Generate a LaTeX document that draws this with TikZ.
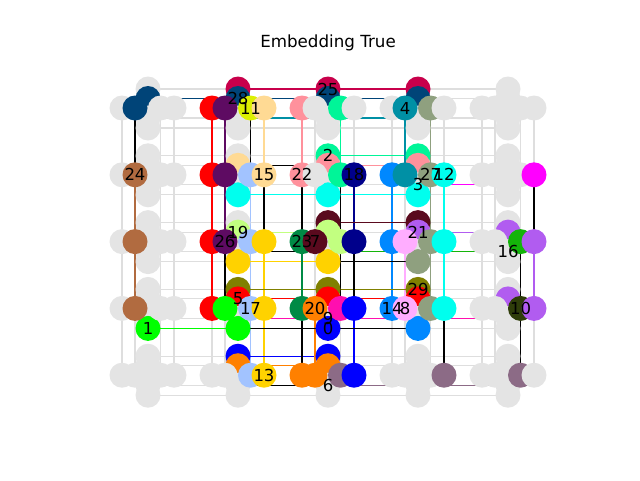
\documentclass[tikz,border=0pt]{standalone}
\usepackage{fontspec}
\setmainfont{DejaVu Sans}
\usepackage{xcolor}

\definecolor{qgray}{HTML}{E4E4E4}
\definecolor{hwgray}{HTML}{DEDEDE}
\definecolor{c28}{HTML}{004478}
\definecolor{cCrim}{HTML}{C8004B}
\definecolor{cRed}{HTML}{FF0000}
\definecolor{cPurp}{HTML}{5E0B62}
\definecolor{cLime}{HTML}{DCF000}
\definecolor{cPeach}{HTML}{FFDA94}
\definecolor{cPink}{HTML}{FF919C}
\definecolor{cMint}{HTML}{00F598}
\definecolor{cTeal}{HTML}{0090A5}
\definecolor{cSage}{HTML}{8FA07F}
\definecolor{cBrown}{HTML}{B16B40}
\definecolor{cLblue}{HTML}{A2C3FF}
\definecolor{cCyan}{HTML}{00FFEE}
\definecolor{cNavy}{HTML}{00008B}
\definecolor{cAzure}{HTML}{0088FF}
\definecolor{cMag}{HTML}{FF00FF}
\definecolor{cGold}{HTML}{FFD200}
\definecolor{cLgreen}{HTML}{C2FF80}
\definecolor{cDgreen}{HTML}{008A45}
\definecolor{cMaroon}{HTML}{5A0A1E}
\definecolor{cViolet}{HTML}{B15CF0}
\definecolor{cGreenA}{HTML}{14B40A}
\definecolor{cLpink}{HTML}{FFADFF}
\definecolor{cOlive}{HTML}{808000}
\definecolor{cGreen}{HTML}{00FF00}
\definecolor{cOrange}{HTML}{FF8000}
\definecolor{cHot}{HTML}{FF0FAF}
\definecolor{cBlue}{HTML}{0000FF}
\definecolor{cMauve}{HTML}{8C6B86}
\definecolor{cDolive}{HTML}{2F3D0A}

\begin{document}
\begin{tikzpicture}[x=1pt,y=-1pt,
  qubit/.style={circle,minimum size=25pt,inner sep=0pt,fill=qgray},
  hw/.style={hwgray,line width=1.1pt},
  chain/.style={line width=1.1pt},
  lbl/.style={font=\fontsize{16.5}{18}\selectfont}]
  \useasboundingbox (0,0) rectangle (640,480);
  \node[font=\fontsize{16.7}{20}\selectfont] (title) at (328,43) {Embedding True};
  % qubit positions, 8 per cell
  \foreach \i in {0,...,4}
    \foreach \j in {0,...,4} {
      \foreach \k/\d in {0/-26,1/-13,2/12.5,3/26}
        \coordinate (h-\i-\j-\k) at ({148+90*\i+\d},{108+66.8*\j});
      \foreach \k/\d in {0/-19,1/-9.5,2/10,3/20}
        \coordinate (v-\i-\j-\k) at ({148+90*\i},{108+66.8*\j+\d});
    }
  % couplers
  \foreach \i in {0,...,4}
    \foreach \j in {0,...,3}
      \foreach \k in {0,...,3} {
        \pgfmathtruncatemacro\jj{\j+1}
        \draw[hw] (h-\i-\j-\k) -- (h-\i-\jj-\k);
        \draw[hw] (v-\j-\i-\k) -- (v-\jj-\i-\k);
      }
  % chains
  \foreach \a/\b/\c in {v-1-0-0/v-3-0-0/cCrim, v-0-0-1/v-3-0-1/c28,
      v-1-0-2/v-3-0-2/cTeal, h-1-0-0/h-1-3-0/cRed, v-1-3-1/v-3-3-1/cRed,
      h-1-0-1/h-1-2-1/cPurp, h-1-0-3/h-1-1-3/cPeach, h-1-1-2/h-1-4-2/cLblue,
      h-1-2-3/h-1-4-3/cGold, v-1-2-3/v-2-2-3/cGold, v-1-1-3/v-3-1-3/cCyan,
      h-3-1-3/h-3-3-3/cCyan, h-2-0-2/h-2-1-2/cMint, v-2-1-0/v-3-1-0/cMint,
      h-2-0-0/h-2-1-0/cPink, v-2-1-1/v-3-1-1/cPink, h-2-1-3/h-2-2-3/cNavy,
      h-2-3-3/h-2-4-3/cBlue, v-1-4-0/v-2-4-0/cBlue, h-3-1-0/h-3-3-0/cAzure,
      h-3-0-1/h-3-1-1/cTeal, h-3-0-2/h-3-3-2/cSage, v-2-2-0/v-3-2-0/cMaroon,
      v-1-2-1/v-2-2-1/cLgreen, v-3-2-1/v-4-2-1/cViolet, h-4-2-3/h-4-3-3/cViolet,
      h-3-2-1/h-3-3-1/cLpink, v-1-3-0/v-3-3-0/cOlive, v-0-3-3/v-1-3-3/cGreen,
      h-2-2-0/h-2-3-0/cDgreen, v-1-4-1/v-2-4-1/cOrange, h-2-3-1/h-2-4-1/cOrange,
      v-1-3-2/v-4-3-2/cHot, v-2-4-2/v-4-4-2/cMauve, v-3-1-2/v-4-1-2/cMag,
      v-2-2-2/v-4-2-2/cGreenA, h-0-1-1/h-0-3-1/cBrown}
    \draw[chain,\c] (\a) -- (\b);
  % edges between chains
  \foreach \a/\b in {h-0-0-1/h-0-1-1, h-1-0-2/h-1-1-2, v-1-1-1/v-2-1-1,
      h-1-1-3/h-1-2-3, v-1-2-2/v-2-2-2, h-4-1-3/h-4-2-3, h-2-1-2/h-2-2-2,
      v-2-2-3/v-3-2-3, h-4-2-2/h-4-3-2, h-2-2-2/h-2-3-2, h-2-2-3/h-2-3-3,
      h-4-3-2/h-4-4-2, v-2-3-3/v-3-3-3, v-1-3-3/v-2-3-3, h-3-3-3/h-3-4-3,
      h-2-3-0/h-2-4-0, v-1-4-2/v-2-4-2, h-2-1-0/h-2-2-0, h-1-2-1/h-1-3-1}
    \draw[chain,black] (\a) -- (\b);
  % colours of the used qubits
  \foreach \p/\c in {h-0-0-1/c28, v-0-0-1/c28,
      h-1-0-0/cRed, h-1-0-1/cPurp, v-1-0-0/cCrim, v-1-0-1/c28, h-1-0-2/cLime, h-1-0-3/cPeach,
      h-2-0-0/cPink, v-2-0-0/cCrim, v-2-0-1/c28, h-2-0-2/cMint,
      v-3-0-0/cCrim, v-3-0-1/c28, h-3-0-1/cTeal, h-3-0-2/cSage,
      h-0-1-1/cBrown,
      h-1-1-0/cRed, h-1-1-1/cPurp, v-1-1-1/cPeach, h-1-1-2/cLblue, h-1-1-3/cPeach, v-1-1-3/cCyan,
      h-2-1-0/cPink, v-2-1-0/cMint, v-2-1-1/cPink, h-2-1-2/cMint, h-2-1-3/cNavy, v-2-1-3/cCyan,
      h-3-1-0/cAzure, h-3-1-1/cTeal, v-3-1-0/cMint, v-3-1-1/cPink, h-3-1-2/cSage, h-3-1-3/cCyan, v-3-1-3/cCyan,
      h-4-1-3/cMag,
      h-0-2-1/cBrown,
      h-1-2-0/cRed, h-1-2-1/cPurp, v-1-2-1/cLgreen, h-1-2-2/cLblue, h-1-2-3/cGold, v-1-2-3/cGold,
      h-2-2-0/cDgreen, h-2-2-1/cMaroon, v-2-2-0/cMaroon, v-2-2-1/cLgreen, h-2-2-2/cLgreen, h-2-2-3/cNavy, v-2-2-3/cGold,
      h-3-2-0/cAzure, h-3-2-1/cLpink, v-3-2-0/cMaroon, v-3-2-1/cViolet, h-3-2-2/cSage, h-3-2-3/cCyan, v-3-2-3/cSage,
      v-4-2-1/cViolet, h-4-2-2/cGreenA, h-4-2-3/cViolet,
      h-0-3-1/cBrown, v-0-3-3/cGreen,
      h-1-3-0/cRed, h-1-3-1/cGreen, v-1-3-0/cOlive, v-1-3-1/cRed, h-1-3-2/cLblue, h-1-3-3/cGold, v-1-3-3/cGreen,
      h-2-3-0/cDgreen, h-2-3-1/cOrange, v-2-3-0/cOlive, v-2-3-1/cRed, h-2-3-2/cHot, h-2-3-3/cBlue, v-2-3-3/cBlue,
      h-3-3-0/cAzure, h-3-3-1/cLpink, v-3-3-0/cOlive, v-3-3-1/cRed, h-3-3-2/cSage, h-3-3-3/cCyan, v-3-3-3/cAzure,
      v-4-3-1/cViolet, h-4-3-2/cDolive, h-4-3-3/cViolet,
      v-1-4-0/cBlue, v-1-4-1/cOrange, h-1-4-2/cLblue, h-1-4-3/cGold,
      h-2-4-0/cOrange, h-2-4-1/cOrange, v-2-4-0/cBlue, v-2-4-1/cOrange, h-2-4-2/cMauve, h-2-4-3/cBlue,
      h-3-4-3/cMauve, h-4-4-2/cMauve}
    {\expandafter\xdef\csname qc@\p\endcsname{\c}}
  % qubits, vertical ones first
  \foreach \t in {v,h}
    \foreach \k in {0,...,3}
      \foreach \i in {0,...,4}
        \foreach \j in {0,...,4} {
          \ifcsname qc@\t-\i-\j-\k\endcsname
            \edef\qc{\csname qc@\t-\i-\j-\k\endcsname}%
          \else
            \def\qc{qgray}%
          \fi
          \node[qubit,fill=\qc] (q\t-\i-\j-\k) at (\t-\i-\j-\k) {};
        }
  % chain labels
  \foreach \p/\t in {v-1-0-1/28, h-1-0-2/11, v-2-0-0/25, h-3-0-1/4,
      h-0-1-1/24, h-1-1-3/15, h-2-1-0/22, v-2-1-0/2, h-2-1-3/18, v-3-1-2/3,
      h-3-1-2/27, h-3-1-3/12, v-1-2-1/19, h-1-2-1/26, h-2-2-0/23, h-2-2-1/7,
      v-3-2-1/21, v-4-2-2/16, v-1-3-1/5, h-1-3-2/17, h-2-3-1/20, v-2-3-2/9,
      v-2-3-3/0, h-3-3-0/14, h-3-3-1/8, v-3-3-0/29, h-4-3-2/10, v-0-3-3/1,
      h-1-4-3/13, v-2-4-2/6}
    \node[lbl] (n\t) at (\p) {\t};
\end{tikzpicture}
\end{document}
